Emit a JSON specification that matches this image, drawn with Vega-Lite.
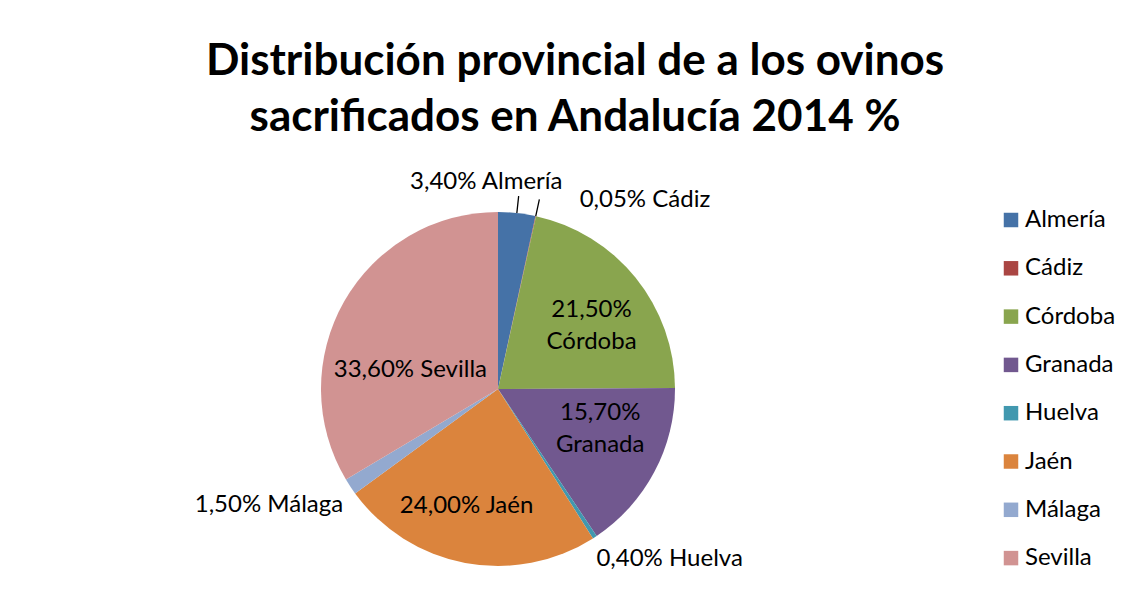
{
  "$schema": "https://vega.github.io/schema/vega-lite/v6.json",
  "width": 980,
  "height": 450,
  "autosize": {"type": "pad"},
  "padding": {"left": 8, "top": 40, "right": 0, "bottom": 0},
  "background": "white",
  "config": {"view": {"stroke": null}, "font": "Lato"},
  "title": {
    "text": ["Distribución provincial de a los ovinos", "sacrificados en Andalucía 2014 %"],
    "font": "Lato",
    "fontSize": 44,
    "fontWeight": "bold",
    "lineHeight": 56,
    "color": "black",
    "anchor": "middle",
    "frame": "group",
    "dx": 77,
    "offset": 24
  },
  "data": {
    "values": [
      {"idx": 1, "prov": "Almería", "pct": 3.40, "label": "3,40% Almería"},
      {"idx": 2, "prov": "Cádiz", "pct": 0.05, "label": "0,05% Cádiz"},
      {"idx": 3, "prov": "Córdoba", "pct": 21.50, "label": "21,50% Córdoba"},
      {"idx": 4, "prov": "Granada", "pct": 15.70, "label": "15,70% Granada"},
      {"idx": 5, "prov": "Huelva", "pct": 0.40, "label": "0,40% Huelva"},
      {"idx": 6, "prov": "Jaén", "pct": 24.00, "label": "24,00% Jaén"},
      {"idx": 7, "prov": "Málaga", "pct": 1.50, "label": "1,50% Málaga"},
      {"idx": 8, "prov": "Sevilla", "pct": 33.60, "label": "33,60% Sevilla"}
    ]
  },
  "encoding": {
    "theta": {"field": "pct", "type": "quantitative", "stack": true},
    "order": {"field": "idx", "type": "quantitative"}
  },
  "layer": [
    {
      "mark": {"type": "arc", "outerRadius": 177},
      "encoding": {
        "color": {
          "field": "prov",
          "type": "nominal",
          "sort": ["Almería", "Cádiz", "Córdoba", "Granada", "Huelva", "Jaén", "Málaga", "Sevilla"],
          "scale": {
            "domain": ["Almería", "Cádiz", "Córdoba", "Granada", "Huelva", "Jaén", "Málaga", "Sevilla"],
            "range": ["#4572A7", "#AA4643", "#89A54E", "#71588F", "#4198AF", "#DB843D", "#93A9CF", "#D19392"]
          },
          "legend": {
            "title": null,
            "orient": "none",
            "legendX": 991,
            "legendY": 44,
            "padding": 0,
            "symbolType": "square",
            "symbolSize": 210,
            "symbolStrokeWidth": 0,
            "labelFont": "Lato",
            "labelFontSize": 24,
            "labelColor": "black",
            "labelOffset": 2,
            "rowPadding": 24.3
          }
        }
      }
    },
    {
      "mark": {"type": "arc", "innerRadius": 177, "outerRadius": 194, "padAngle": 1, "fill": null, "stroke": "black", "strokeWidth": 1.3},
      "encoding": {
        "strokeOpacity": {"condition": {"test": "datum.prov === 'Almería' || datum.prov === 'Cádiz'", "value": 1}, "value": 0}
      }
    },
    {
      "mark": {"type": "text", "radius": 200, "align": "center", "baseline": "alphabetic", "dx": -33, "dy": -1, "fontSize": 24, "font": "Lato", "color": "black"},
      "encoding": {"text": {"condition": {"test": "datum.prov === 'Almería'", "field": "label"}, "value": ""}}
    },
    {
      "mark": {"type": "text", "radius": 200, "align": "left", "baseline": "alphabetic", "dx": 39, "dy": 13, "fontSize": 24, "font": "Lato", "color": "black"},
      "encoding": {"text": {"condition": {"test": "datum.prov === 'Cádiz'", "field": "label"}, "value": ""}}
    },
    {
      "mark": {"type": "text", "radius": 110, "align": "center", "baseline": "alphabetic", "dx": 8, "dy": -3, "lineBreak": " ", "lineHeight": 32, "fontSize": 24, "font": "Lato", "color": "black"},
      "encoding": {"text": {"condition": {"test": "datum.prov === 'Córdoba'", "field": "label"}, "value": ""}}
    },
    {
      "mark": {"type": "text", "radius": 110, "align": "center", "baseline": "alphabetic", "dx": 5, "dy": -20, "lineBreak": " ", "lineHeight": 32, "fontSize": 24, "font": "Lato", "color": "black"},
      "encoding": {"text": {"condition": {"test": "datum.prov === 'Granada'", "field": "label"}, "value": ""}}
    },
    {
      "mark": {"type": "text", "radius": 200, "align": "left", "baseline": "alphabetic", "dx": -11, "dy": 10, "fontSize": 24, "font": "Lato", "color": "black"},
      "encoding": {"text": {"condition": {"test": "datum.prov === 'Huelva'", "field": "label"}, "value": ""}}
    },
    {
      "mark": {"type": "text", "radius": 110, "align": "center", "baseline": "alphabetic", "dx": -11, "dy": 16, "fontSize": 24, "font": "Lato", "color": "black"},
      "encoding": {"text": {"condition": {"test": "datum.prov === 'Jaén'", "field": "label"}, "value": ""}}
    },
    {
      "mark": {"type": "text", "radius": 200, "align": "right", "baseline": "alphabetic", "dx": 12, "dy": 13, "fontSize": 24, "font": "Lato", "color": "black"},
      "encoding": {"text": {"condition": {"test": "datum.prov === 'Málaga'", "field": "label"}, "value": ""}}
    },
    {
      "mark": {"type": "text", "radius": 110, "align": "center", "baseline": "alphabetic", "dx": 8, "dy": 42, "fontSize": 24, "font": "Lato", "color": "black"},
      "encoding": {"text": {"condition": {"test": "datum.prov === 'Sevilla'", "field": "label"}, "value": ""}}
    }
  ]
}
